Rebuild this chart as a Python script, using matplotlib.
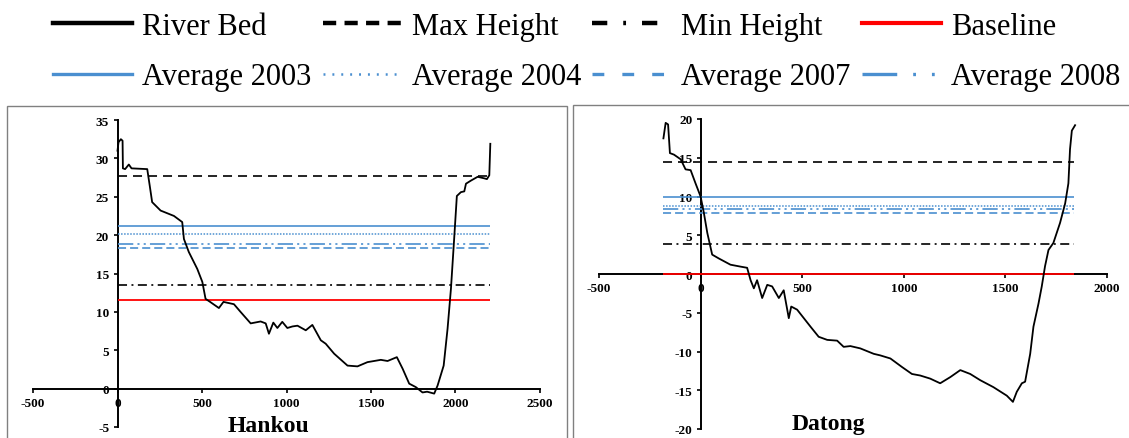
import matplotlib
matplotlib.use('Agg')
import matplotlib.pyplot as plt
from matplotlib.lines import Line2D
from matplotlib.patches import Rectangle

plt.rcParams['font.family'] = ['Liberation Serif', 'DejaVu Serif']
plt.rcParams['axes.unicode_minus'] = False
plt.rcParams['lines.scale_dashes'] = False

# ---------------- data ----------------
hankou_x = [0, 6, 20, 30, 32, 45, 67, 83, 176, 191, 205, 255, 334, 383, 393, 422, 472, 502,
            521, 548, 600, 627, 689, 728, 788, 847, 877, 896, 922, 946, 975, 1005, 1035,
            1065, 1114, 1153, 1203, 1232, 1282, 1361, 1420, 1479, 1558, 1598, 1653, 1687,
            1726, 1765, 1805, 1832, 1874, 1894, 1930, 1953, 1973, 1992, 2008, 2032, 2052,
            2062, 2091, 2131, 2170, 2186, 2200, 2206]
hankou_y = [31.0, 32.1, 32.5, 32.3, 28.7, 28.6, 29.2, 28.7, 28.6, 26.4, 24.3, 23.2, 22.5, 21.7,
            19.5, 17.8, 15.6, 13.9, 11.7, 11.3, 10.5, 11.3, 11.0, 10.0, 8.5, 8.75, 8.5, 7.15,
            8.6, 7.9, 8.7, 7.9, 8.1, 8.2, 7.6, 8.3, 6.3, 5.85, 4.55, 3.0, 2.9, 3.45, 3.75, 3.6,
            4.1, 2.6, 0.65, 0.2, -0.5, -0.4, -0.65, 0.4, 3.0, 7.8, 13.0, 19.5, 25.1, 25.6,
            25.7, 26.7, 27.1, 27.6, 27.4, 27.3, 27.8, 31.9]

datong_x = [-183, -172, -160, -151, -131, -98, -74, -49, -25, 0, 16, 33, 57, 90, 147, 197, 229,
            246, 262, 278, 303, 328, 352, 385, 409, 434, 446, 475, 508, 541, 581, 623, 672,
            704, 737, 786, 852, 884, 934, 991, 1040, 1081, 1130, 1179, 1229, 1278, 1327,
            1376, 1441, 1507, 1537, 1556, 1581, 1597, 1622, 1638, 1663, 1679, 1695, 1712,
            1736, 1769, 1794, 1810, 1818, 1827, 1843]
datong_y = [17.5, 19.5, 19.3, 15.6, 15.4, 14.8, 13.5, 13.4, 11.7, 10.0, 7.9, 5.3, 2.5, 2.0, 1.2,
            0.95, 0.8, -0.8, -1.85, -0.8, -3.1, -1.4, -1.6, -3.1, -2.1, -5.7, -4.2, -4.6,
            -5.7, -6.8, -8.1, -8.5, -8.6, -9.4, -9.3, -9.6, -10.3, -10.5, -10.9, -12.0,
            -12.9, -13.1, -13.5, -14.1, -13.3, -12.4, -12.9, -13.7, -14.6, -15.7, -16.5,
            -15.2, -14.1, -13.9, -10.3, -6.8, -3.8, -1.6, 1.0, 3.1, 4.0, 6.6, 9.1, 11.7,
            16.1, 18.5, 19.2]

level_names = ['Max Height', 'Min Height', 'Baseline',
               'Average 2003', 'Average 2004', 'Average 2007', 'Average 2008']
hankou_levels = [27.7, 13.5, 11.6, 21.25, 20.1, 18.3, 18.85]
datong_levels = [14.5, 3.9, 0.0, 10.0, 8.8, 7.9, 8.4]
hankou_span = [0, 2205]
datong_span = [-185, 1840]

hankou_xticks = [-500, 0, 500, 1000, 1500, 2000, 2500]
hankou_yticks = [-5, 0, 5, 10, 15, 20, 25, 30, 35]
datong_xticks = [-500, 0, 500, 1000, 1500, 2000]
datong_yticks = [-20, -15, -10, -5, 0, 5, 10, 15, 20]

# ---------------- styles ----------------
BLUE = '#4A8FD0'
plot_styles = {
    'Max Height':   dict(color='black', ls=(0, (6.5, 4.3)), lw=1.2),
    'Min Height':   dict(color='black', ls=(0, (6.5, 3.2, 1.4, 3.2)), lw=1.2),
    'Baseline':     dict(color='red', ls='-', lw=1.3),
    'Average 2003': dict(color=BLUE, ls='-', lw=1.2),
    'Average 2004': dict(color=BLUE, ls=(0, (1.1, 1.1)), lw=1.1),
    'Average 2007': dict(color=BLUE, ls=(0, (5.8, 2.9)), lw=1.2),
    'Average 2008': dict(color=BLUE, ls=(0, (11, 3, 1.5, 3, 1.5, 3)), lw=1.2),
}
legend_styles = {
    'River Bed':    dict(color='black', ls='-', lw=3.2),
    'Max Height':   dict(color='black', ls=(0, (9.5, 6)), lw=3.2),
    'Min Height':   dict(color='black', ls=(0, (11, 11.5, 2, 11.5)), lw=3.2),
    'Baseline':     dict(color='red', ls='-', lw=3.0),
    'Average 2003': dict(color=BLUE, ls='-', lw=2.4),
    'Average 2004': dict(color=BLUE, ls=(0, (1.4, 5)), lw=1.8),
    'Average 2007': dict(color=BLUE, ls=(0, (8.5, 13)), lw=2.4),
    'Average 2008': dict(color=BLUE, ls=(0, (25, 11.5, 2, 11.5, 2, 11.5)), lw=2.4),
}

W, H = 1129, 439
fig = plt.figure(figsize=(W / 100, H / 100), dpi=100)


def make_panel(rect, bx, by, levels, span, xticks, yticks, xlim, ylim):
    ax = fig.add_axes(rect)
    ax.set_xlim(*xlim)
    ax.set_ylim(*ylim)
    ax.patch.set_visible(False)
    for name, lev in zip(level_names, levels):
        st = plot_styles[name]
        ax.hlines(lev, span[0], span[1], colors=st['color'], linestyles=st['ls'],
                  linewidth=st['lw'], zorder=3)
    ax.plot(bx, by, color='black', lw=1.3, zorder=4)
    ax.spines['left'].set_position(('data', 0))
    ax.spines['bottom'].set_position(('data', 0))
    ax.spines['top'].set_visible(False)
    ax.spines['right'].set_visible(False)
    for s in ('left', 'bottom'):
        ax.spines[s].set_linewidth(1.4)
        ax.spines[s].set_zorder(2)
    ax.set_xticks(xticks)
    ax.set_yticks(yticks)
    ax.set_xticklabels([str(t) for t in xticks])
    ax.set_yticklabels([str(t) for t in yticks])
    ax.tick_params(direction='out', length=3, width=1.2, labelsize=9.5, pad=3)
    for lab in ax.get_xticklabels() + ax.get_yticklabels():
        lab.set_fontweight('bold')
    return ax


make_panel([33 / W, 1 - 428 / H, 507 / W, 307 / H], hankou_x, hankou_y, hankou_levels,
           hankou_span, hankou_xticks, hankou_yticks, (-500, 2500), (-5, 35))
make_panel([599 / W, 1 - 430 / H, 508 / W, 310 / H], datong_x, datong_y, datong_levels,
           datong_span, datong_xticks, datong_yticks, (-500, 2000), (-20, 20))

# panel borders
fig.add_artist(Rectangle((7 / W, -0.05), 560 / W, 1.05 - 107 / H, transform=fig.transFigure,
                         fill=False, edgecolor='#808080', lw=1.0))
fig.add_artist(Rectangle((572.5 / W, -0.05), 0.6, 1.05 - 106 / H, transform=fig.transFigure,
                         fill=False, edgecolor='#808080', lw=1.0))

# panel names
fig.text(268.5 / W, 1 - 432 / H, 'Hankou', ha='center', va='baseline', fontsize=17,
         fontweight='bold')
fig.text(828 / W, 1 - 430 / H, 'Datong', ha='center', va='baseline', fontsize=17,
         fontweight='bold')

# legend: four columns, two rows each
legend_cols = [['River Bed', 'Average 2003'], ['Max Height', 'Average 2004'],
               ['Min Height', 'Average 2007'], ['Baseline', 'Average 2008']]
col_px = [53, 323, 592, 862]
for names, cx in zip(legend_cols, col_px):
    handles = [Line2D([], [], color=legend_styles[n]['color'], linestyle=legend_styles[n]['ls'],
                      linewidth=legend_styles[n]['lw']) for n in names]
    fig.legend(handles, names, loc='upper left', bbox_to_anchor=(cx / W, 1 - 13 / H),
               frameon=False, fontsize=22, handlelength=2.6, handletextpad=0.3,
               labelspacing=0.7, borderpad=0, borderaxespad=0)

fig.savefig('out.png', dpi=100)
